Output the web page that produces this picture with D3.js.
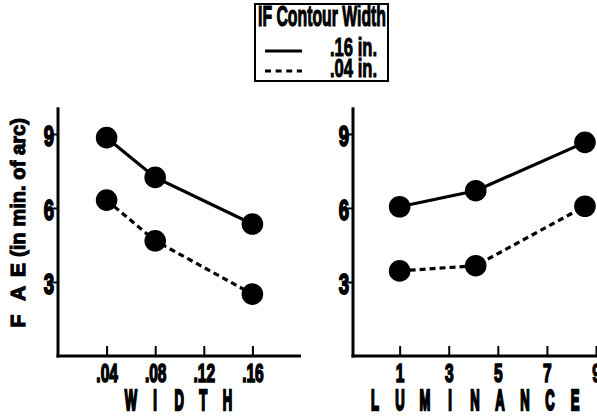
<!DOCTYPE html>
<html>
<head>
<meta charset="utf-8">
<script src="https://cdnjs.cloudflare.com/ajax/libs/d3/7.8.5/d3.min.js"></script>
<style>
  body { margin: 0; background: #fff; }
  svg { display: block; }
  text { font-family: "Liberation Sans", Arial, sans-serif; font-weight: bold; fill: #000; stroke: #000; stroke-width: 0.8px; }
</style>
</head>
<body>
<div id="chart"></div>
<script>
// data
var widthVals = [0.04, 0.08, 0.16];
var widthSolid = [8.85, 7.24, 5.35];   // .16 in. contour
var widthDashed = [6.32, 4.67, 2.51];  // .04 in. contour
var widthTicks = [0.04, 0.08, 0.12, 0.16];
var widthTickLabels = [".04", ".08", ".12", ".16"];

var lumVals = [1, 4.1, 8.55];
var lumSolid = [6.05, 6.70, 8.66];
var lumDashed = [3.45, 3.66, 6.07];
var lumTicks = [1, 3, 5, 7, 9];

var yTicks = [3, 6, 9];
var legendTitle = "IF Contour Width";
var legendLabels = [".16 in.", ".04 in."];

var W = 597, H = 416;
var SX = 0.62; // horizontal squeeze, the original type is a condensed face

var svg = d3.select("#chart").append("svg")
  .attr("width", W)
  .attr("height", H);

// shared y scale
var y = d3.scaleLinear().domain([0, 10]).range([356, 109.3]);

var panels = [
  { x: d3.scaleLinear().domain([0, 0.2]).range([58, 301]),
    ticks: widthTicks, fmt: function(d, i) { return widthTickLabels[i]; },
    xs: widthVals, solid: widthSolid, dashed: widthDashed,
    title: "WIDTH", titleStart: 131, pitch: 24.1, axisEnd: 301 },
  { x: d3.scaleLinear().domain([-0.9, 9]).range([353, 596]),
    ticks: lumTicks, fmt: d3.format("d"),
    xs: lumVals, solid: lumSolid, dashed: lumDashed,
    title: "LUMINANCE", titleStart: 375, pitch: 25, axisEnd: 597 }
];

var line = d3.line();

panels.forEach(function(p) {
  var g = svg.append("g");
  var x0 = p.x.range()[0];

  // y axis
  var yAxis = d3.axisLeft(y).tickValues(yTicks).tickSizeInner(5).tickSizeOuter(0).tickPadding(0);
  var ga = g.append("g").attr("transform", "translate(" + x0 + ",0)").call(yAxis)
    .attr("font-size", 30).attr("font-family", null);
  ga.select(".domain").remove();
  ga.selectAll(".tick line").attr("stroke-width", 2).attr("x2", -5).attr("x1", 1);
  ga.selectAll(".tick text")
    .style("stroke-width", "1.8px")
    .attr("x", -4 / SX)
    .attr("dy", "0.37em")
    .attr("transform", "scale(" + SX + ",1)");

  // x axis
  var xAxis = d3.axisBottom(p.x).tickValues(p.ticks).tickFormat(p.fmt)
    .tickSizeInner(-10).tickSizeOuter(0).tickPadding(8);
  var gx = g.append("g").attr("transform", "translate(0," + y(0) + ")").call(xAxis)
    .attr("font-size", 25).attr("font-family", null);
  gx.select(".domain").remove();
  gx.selectAll(".tick line").attr("stroke-width", 2);
  gx.selectAll(".tick text")
    .style("stroke-width", "1.6px")
    .attr("transform", "scale(" + SX + ",1)");

  // axis lines
  g.append("line")
    .attr("x1", x0).attr("x2", x0)
    .attr("y1", y(10) - 2).attr("y2", y(0) + 1.5)
    .attr("stroke", "#000").attr("stroke-width", 3);
  g.append("line")
    .attr("x1", x0 - 1.5).attr("x2", p.axisEnd)
    .attr("y1", y(0)).attr("y2", y(0))
    .attr("stroke", "#000").attr("stroke-width", 3);

  // series
  [[p.solid, null], [p.dashed, "6,4"]].forEach(function(s) {
    var pts = p.xs.map(function(v, i) { return [p.x(v), y(s[0][i])]; });
    g.append("path")
      .attr("d", line(pts))
      .attr("fill", "none")
      .attr("stroke", "#000")
      .attr("stroke-width", 3.2)
      .attr("stroke-dasharray", s[1]);
    g.selectAll(null).data(pts).enter().append("circle")
      .attr("cx", function(d) { return d[0]; })
      .attr("cy", function(d) { return d[1]; })
      .attr("r", 10.8)
      .attr("fill", "#000");
  });

  // x title, widely spaced letters
  g.selectAll(null).data(p.title.split("")).enter().append("text")
    .attr("transform", function(d, i) {
      return "translate(" + (p.titleStart + i * p.pitch) + ",410) scale(0.45,1)";
    })
    .attr("text-anchor", "middle")
    .style("font-size", "29px")
    .style("stroke-width", "2.4px")
    .text(function(d) { return d; });
});

// y title
var yt = svg.append("g").attr("transform", "translate(25,0) rotate(-90)");
yt.selectAll(null).data([["F", 321], ["A", 293.5], ["E", 270]]).enter().append("text")
  .attr("x", function(d) { return -d[1]; })
  .attr("text-anchor", "middle")
  .style("font-size", "21px")
  .style("stroke-width", "1.2px")
  .text(function(d) { return d[0]; });
yt.append("text")
  .attr("x", -257)
  .attr("textLength", 139)
  .attr("lengthAdjust", "spacingAndGlyphs")
  .style("font-size", "21px")
  .style("stroke-width", "1.1px")
  .text("(in min. of arc)");

// legend
var lg = svg.append("g");
lg.append("rect")
  .attr("x", 255).attr("y", 4)
  .attr("width", 133).attr("height", 77)
  .attr("fill", "none").attr("stroke", "#000").attr("stroke-width", 2);
lg.append("text")
  .attr("x", 258).attr("y", 26)
  .attr("textLength", 128)
  .attr("lengthAdjust", "spacingAndGlyphs")
  .style("font-size", "29px")
  .style("stroke-width", "1.2px")
  .text(legendTitle);
[null, "6,4.6"].forEach(function(dash, i) {
  var ly = 51 + i * 20;
  lg.append("line")
    .attr("x1", 265).attr("x2", 302)
    .attr("y1", ly).attr("y2", ly)
    .attr("stroke", "#000").attr("stroke-width", 3)
    .attr("stroke-dasharray", dash);
  lg.append("text")
    .attr("x", 330).attr("y", 56 + i * 21)
    .attr("textLength", 47)
    .attr("lengthAdjust", "spacingAndGlyphs")
    .style("font-size", "26px")
    .style("stroke-width", "1px")
    .text(legendLabels[i]);
});
</script>
</body>
</html>
